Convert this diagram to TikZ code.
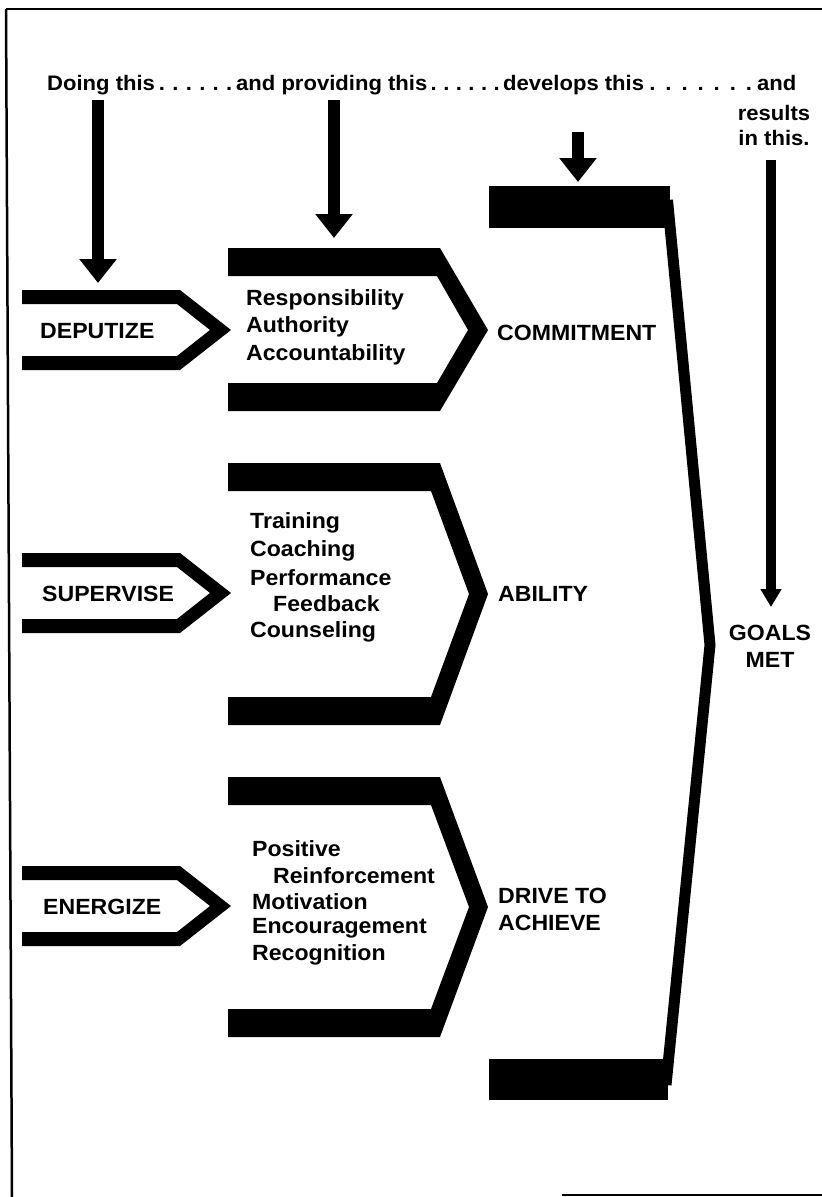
\documentclass[tikz,border=0pt]{standalone}
\usepackage{fontspec}
\setmainfont{Liberation Sans}[FakeStretch=1.05]
\usetikzlibrary{arrows.meta,calc}

% small open chevron on the left: #1 = centre line
\newcommand\smallchev[1]{%
  \fill (22,#1-40) -- (180,#1-40) -- (231,#1) -- (180,#1+40) -- (22,#1+40)
     -- (22,#1+26) -- (177,#1+26) -- (210,#1) -- (177,#1-26) -- (22,#1-26) -- cycle;}
% large open chevron: top, tip line, bottom, inner corner x, inner tip x
\newcommand\bigchev[5]{%
  \fill (228,#1) -- (440,#1) -- (488,#2) -- (440,#3) -- (228,#3)
     -- (228,#3-28) -- (#4,#3-28) -- (#5,#2) -- (#4,#1+28) -- (228,#1+28) -- cycle;}
% a row of leader dots between two heading words
\newcommand\leaderdots[3]{%
  \foreach \i in {1,...,#3}
    \node[hdr, anchor=base] at ($(#1.base east)!{(\i-0.5)/#3}!(#2.base west)$) {.};}

\begin{document}
\begin{tikzpicture}[x=1pt,y=-1pt,
  txt/.style={font=\bfseries\fontsize{22}{27}\selectfont, inner sep=0pt, anchor=west, align=left},
  hdr/.style={font=\bfseries\fontsize{21}{25}\selectfont, inner sep=0pt},
  bigarrow/.style={line width=12pt, -{Triangle[width=36pt,length=24pt]}},
  thinarrow/.style={line width=10pt, -{Triangle[width=20pt,length=18pt]}},
  frame/.style={line width=2.5pt}]
\useasboundingbox (0,0) rectangle (822,1197);

% page frame
\draw[frame] (6,9) -- (822,9);
\draw[frame] (6,9) -- (12,1197);
\draw[line width=2pt] (562,1195) -- (822,1195);

% heading
\node[hdr, anchor=base west] (h1) at (47,90) {Doing this};
\node[hdr, anchor=base west] (h2) at (236,90) {and providing this};
\node[hdr, anchor=base west] (h3) at (503,90) {develops this};
\node[hdr, anchor=base west] (h4) at (757,90) {and};
\leaderdots{h1}{h2}{6}
\leaderdots{h2}{h3}{6}
\leaderdots{h3}{h4}{7}
\node[hdr, align=center] (tail) at (774,125) {results\\in this.};

% arrows from the heading
\coordinate (a1s) at (98,100);  \coordinate (a1e) at (98,283);
\coordinate (a2s) at (334,100); \coordinate (a2e) at (334,238);
\coordinate (a3s) at (578,132); \coordinate (a3e) at (578,182);
\coordinate (a4s) at (771,160); \coordinate (a4e) at (771,607);
\draw[bigarrow] (a1s) -- (a1e);
\draw[bigarrow] (a2s) -- (a2e);
\draw[bigarrow] (a3s) -- (a3e);
\draw[thinarrow] (a4s) -- (a4e);

% left chevrons
\smallchev{330}
\smallchev{593}
\smallchev{906}
\node[txt] (dep) at (40,331) {DEPUTIZE};
\node[txt] (sup) at (42,594) {SUPERVISE};
\node[txt] (ene) at (43,907) {ENERGIZE};

% middle chevrons
\bigchev{248}{330}{411}{437}{468}
\bigchev{463}{594}{725}{431}{469}
\bigchev{777}{907}{1037}{431}{469}

\node[txt] (r1) at (246,300) {Responsibility};
\node[txt] (r2) at (246,327) {Authority};
\node[txt] (r3) at (246,355) {Accountability};

\node[txt] (s1) at (250,523) {Training};
\node[txt] (s2) at (250,551) {Coaching};
\node[txt] (s3) at (250,578) {Performance};
\node[txt] (s4) at (273,604) {Feedback};
\node[txt] (s5) at (250,632) {Counseling};

\node[txt] (e1) at (252,849) {Positive};
\node[txt] (e2) at (273,876) {Reinforcement};
\node[txt] (e3) at (252,902) {Motivation};
\node[txt] (e4) at (252,928) {Encouragement};
\node[txt] (e5) at (252,955) {Recognition};

% outcomes
\node[txt] (com) at (497,333) {COMMITMENT};
\node[txt] (abi) at (498,594) {ABILITY};
\node[txt] (dri) at (498,909) {DRIVE TO\\ACHIEVE};

% bracket gathering the outcomes
\fill (489,186) rectangle (670,228);
\fill (489,1059) rectangle (668,1100);
\draw[line width=11pt] (667.5,200) -- (710,645) -- (666,1085);
\node[txt, anchor=center, align=center] (goal) at (770,646) {GOALS\\MET};
\end{tikzpicture}
\end{document}
